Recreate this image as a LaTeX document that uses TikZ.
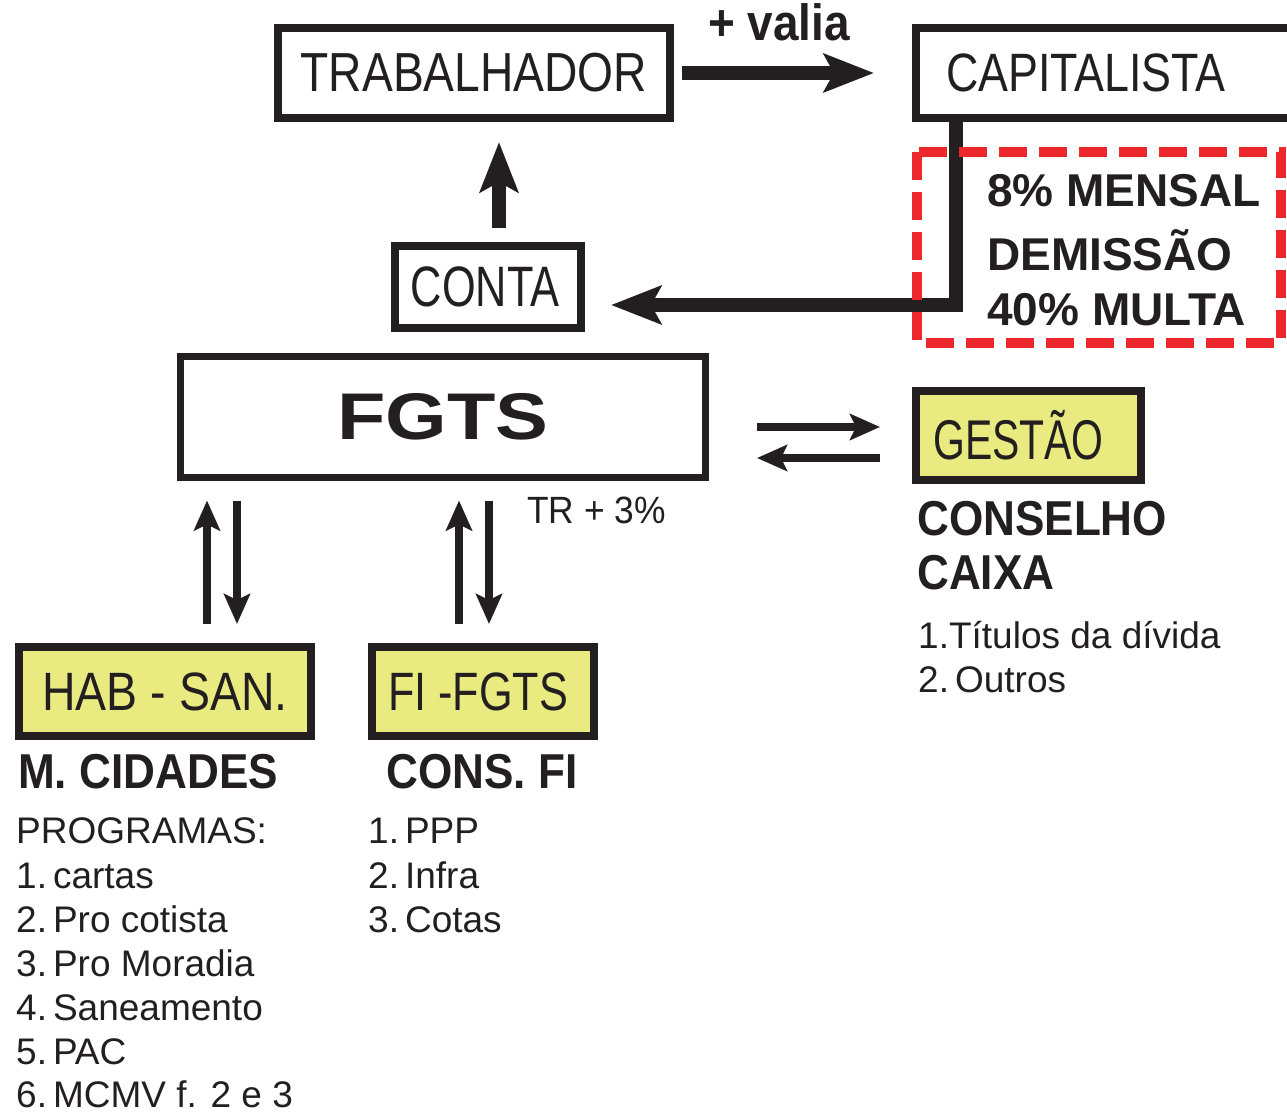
\documentclass[tikz,border=0pt]{standalone}
\usepackage{fontspec}
\usepackage{graphicx}
\setmainfont{Liberation Sans}
\usetikzlibrary{arrows.meta,calc}
\definecolor{ink}{RGB}{35,31,32}
\definecolor{hl}{RGB}{233,235,128}
\definecolor{redd}{RGB}{237,40,45}
\newcommand{\fs}[1]{\fontsize{#1}{#1}\selectfont}
\newcommand{\sx}[2]{\scalebox{#1}[1]{#2}}
\begin{document}
\begin{tikzpicture}[x=1pt,y=-1pt,
  box/.style={draw=ink, line width=8pt, inner sep=0pt, text=ink},
  hlbox/.style={box, fill=hl},
  txt/.style={anchor=base west, inner sep=0pt, text=ink},
  lst/.style={txt, font=\fs{37}},
  bigarrow/.style={draw=ink, line width=14pt, -{Stealth[length=50pt,width=38pt,inset=10pt]}},
  smallarrow/.style={draw=ink, line width=8pt, -{Stealth[length=30pt,width=26pt,inset=6pt]}},
]
\useasboundingbox (0,0) rectangle (1287,1113);
\clip (0,0) rectangle (1287,1113);

% boxes
\node[box, minimum width=392pt, minimum height=90pt] (trab) at (474,73) {\sx{0.84}{\fs{55}TRABALHADOR}};
\node[box, minimum width=484pt, minimum height=90pt, text width=424pt, align=left, inner xsep=30pt] (cap) at (1158,73) {\sx{0.83}{\fs{54}CAPITALISTA}};
\node[box, minimum width=186pt, minimum height=82pt] (conta) at (488,287) {\sx{0.76}{\fs{57}CONTA}\hspace*{6pt}};
\node[box, line width=7pt, minimum width=525pt, minimum height=121pt] (fgts) at (443,417) {\sx{1.2}{\fs{66}\bfseries FGTS}};
\node[hlbox, minimum width=225pt, minimum height=89pt] (gest) at (1028.5,435.5) {\sx{0.73}{\fs{56}GESTÃO}\hspace*{20pt}};
\node[hlbox, minimum width=292pt, minimum height=89pt] (hab) at (165,691.5) {\sx{0.86}{\fs{54}HAB - SAN.}};
\node[hlbox, minimum width=222pt, minimum height=89pt] (fi) at (483,691.5) {\sx{0.8}{\fs{54}FI -FGTS}\hspace*{10pt}};

% connectors
\draw[bigarrow, shorten <=8pt, shorten >=38pt] (trab.east) -- (cap.west);
\draw[bigarrow, shorten <=14pt, shorten >=20pt] ([xshift=11pt]conta.north) -- ([xshift=11pt]conta.north |- trab.south);
\draw[bigarrow, shorten >=26pt] ([xshift=44pt]cap.south west) |- ([yshift=-18pt]conta.east);

\draw[smallarrow, shorten <=48pt, shorten >=32pt] ([yshift=-10pt]fgts.east) -- ([yshift=-10pt]fgts.east -| gest.west);
\draw[smallarrow, shorten <=32pt, shorten >=48pt] ([yshift=-41pt]fgts.east -| gest.west) -- ([yshift=-41pt]fgts.east);

\draw[smallarrow, shorten <=19pt, shorten >=19.5pt] ([xshift=42pt]hab.north) -- ([xshift=42pt]hab.north |- fgts.south);
\draw[smallarrow, shorten <=19.5pt, shorten >=19pt] ([xshift=72pt]hab.north |- fgts.south) -- ([xshift=72pt]hab.north);
\draw[smallarrow, shorten <=19pt, shorten >=19.5pt] ([xshift=-24pt]fi.north) -- ([xshift=-24pt]fi.north |- fgts.south);
\draw[smallarrow, shorten <=19.5pt, shorten >=19pt] ([xshift=6pt]fi.north |- fgts.south) -- ([xshift=6pt]fi.north);

% red dashed frame
\draw[redd, line width=10pt, dash pattern=on 28pt off 12pt] (917,152) rectangle (1281,343);

% labels
\node[txt] (valia) at (708,41) {\sx{0.9}{\fs{51}\bfseries + valia}};
\node[txt] (mensal) at (987,206) {\fs{46}\bfseries 8\% MENSAL};
\node[txt] (demissao) at (987,270) {\fs{46}\bfseries DEMISSÃO};
\node[txt] (multa) at (987,325) {\fs{46}\bfseries 40\% MULTA};
\node[txt] (tr) at (527,523) {\sx{0.93}{\fs{38}TR + 3\%}};
\node[txt] (conselho) at (917,535) {\sx{0.9}{\fs{49}\bfseries CONSELHO}};
\node[txt] (caixa) at (917,589) {\sx{0.9}{\fs{49}\bfseries CAIXA}};
\node[lst] (tit) at (918,648) {1.Títulos da dívida};
\node[lst] (outros) at (918,692) {2.\hspace{6pt}Outros};

\node[txt] (mcid) at (18,788) {\sx{0.9}{\fs{49}\bfseries M. CIDADES}};
\node[txt] (consfi) at (386,788) {\sx{0.9}{\fs{49}\bfseries CONS. FI}};

\node[lst] (prog) at (16,843) {PROGRAMAS:};
\node[lst] (p1) at (16,888) {1.\hspace{6pt}cartas};
\node[lst] (p2) at (16,932) {2.\hspace{6pt}Pro cotista};
\node[lst] (p3) at (16,976) {3.\hspace{6pt}Pro Moradia};
\node[lst] (p4) at (16,1020) {4.\hspace{6pt}Saneamento};
\node[lst] (p5) at (16,1064) {5.\hspace{6pt}PAC};
\node[lst] (p6) at (16,1107) {6.\hspace{6pt}MCMV f. 2 e 3};

\node[lst] (f1) at (368,843) {1.\hspace{6pt}PPP};
\node[lst] (f2) at (368,888) {2.\hspace{6pt}Infra};
\node[lst] (f3) at (368,932) {3.\hspace{6pt}Cotas};
\end{tikzpicture}
\end{document}
